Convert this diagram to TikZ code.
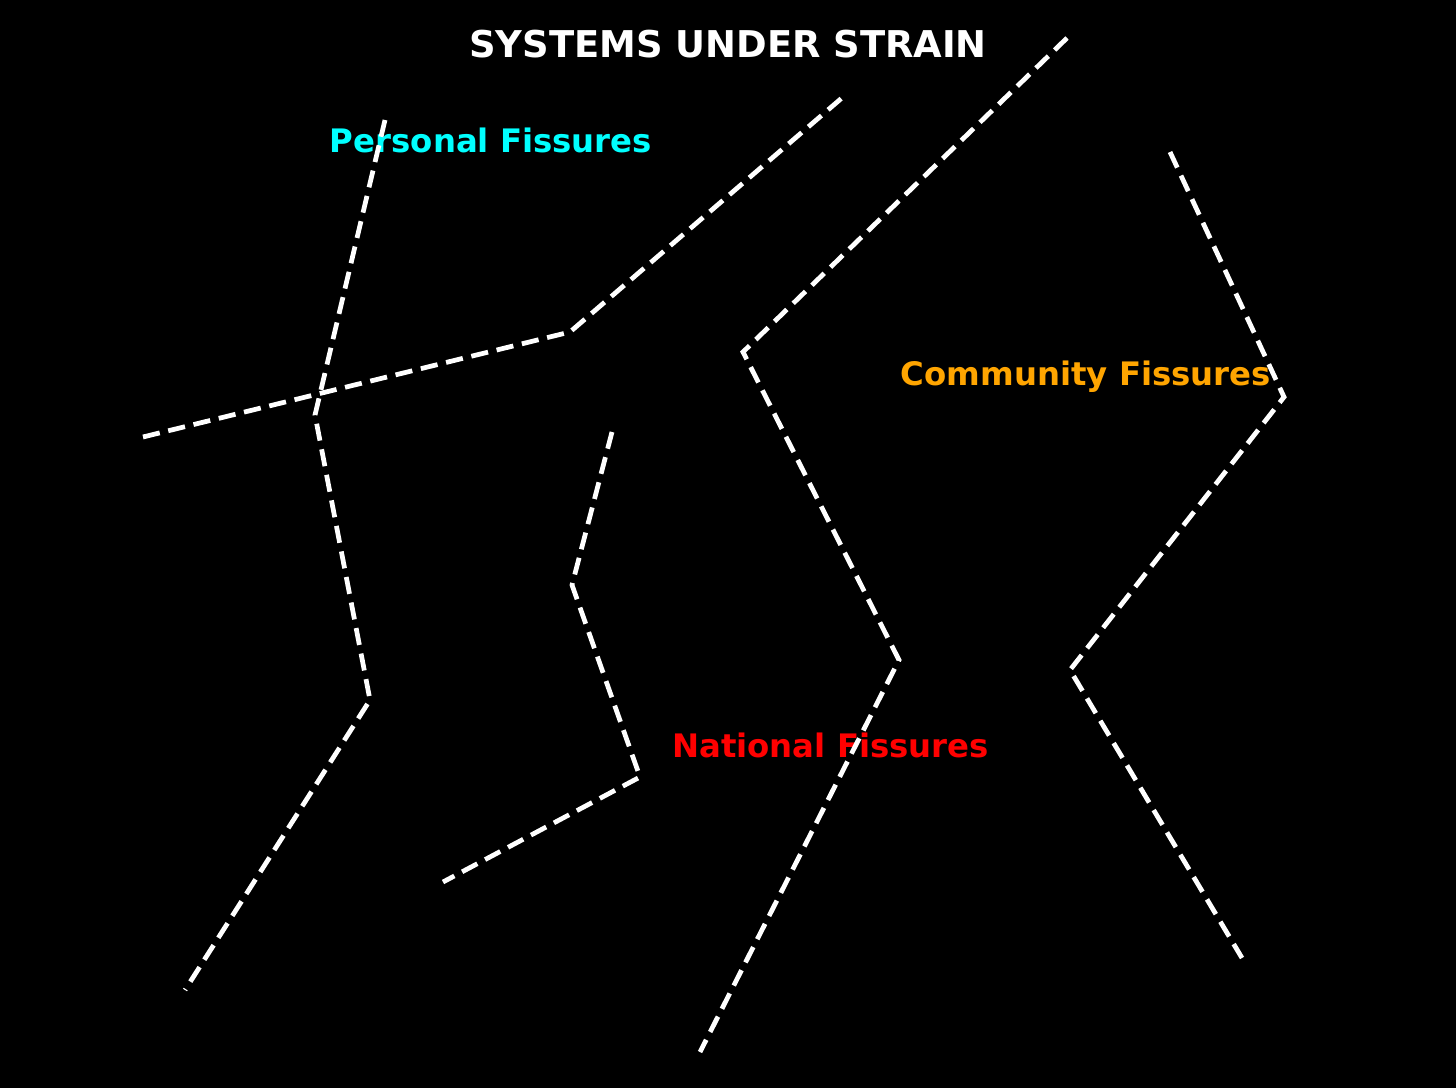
\documentclass[tikz,border=0pt]{standalone}
\usepackage{fontspec}
\setmainfont{DejaVu Sans}
\definecolor{fisscyan}{RGB}{0,255,255}
\definecolor{fissorange}{RGB}{255,165,0}
\definecolor{fissred}{RGB}{255,0,0}
\tikzset{
  crack/.style={white, line width=1.35pt, dash pattern=on 4.9pt off 2.5pt},
  label/.style={font=\bfseries\fontsize{9.2pt}{11pt}\selectfont},
}
\begin{document}
\begin{tikzpicture}
            \fill[black] (0, 0) rectangle (14.56, 10.88);
            \useasboundingbox (0, 0) rectangle (14.56, 10.88);

            \node[label, white, font=\bfseries\fontsize{10.5pt}{13pt}\selectfont] (title) at (7.28, 10.44) {SYSTEMS UNDER STRAIN};
            \node[label, fisscyan] (personal) at (4.91, 9.48) {Personal Fissures};
            \node[label, fissorange] (community) at (10.86, 7.11) {Community Fissures};
            \node[label, fissred] (national) at (8.305, 3.43) {National Fissures};

            \draw[crack] (3.85, 9.68) -- (3.15, 6.73) -- (3.70, 3.88) -- (1.85, 0.98);
            \draw[crack] (1.43, 6.51) -- (5.70, 7.56) -- (8.43, 9.91);
            \draw[crack] (6.12, 6.56) -- (5.72, 5.03) -- (6.40, 3.11) -- (4.43, 2.06);
            \draw[crack] (10.67, 10.50) -- (7.43, 7.36) -- (8.99, 4.28) -- (7.00, 0.36);
            \draw[crack] (11.70, 9.36) -- (12.84, 6.91) -- (10.70, 4.18) -- (12.42, 1.30);
        \end{tikzpicture}
\end{document}
